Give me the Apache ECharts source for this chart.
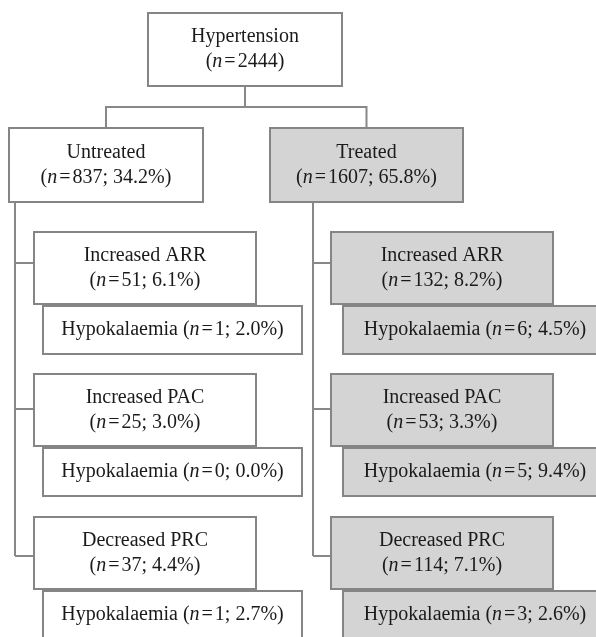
<!DOCTYPE html>
<html>
<head>
<meta charset="utf-8">
<script src="https://cdn.jsdelivr.net/npm/echarts@6/dist/echarts.min.js"></script>
<style>
html,body{margin:0;padding:0;background:#fff;}
#chart{width:596px;height:637px;}
</style>
</head>
<body>
<div id="chart"></div>
<script>
// ---- data ----
const rootLabel = 'Hypertension';
const rootN = 2444;
const groups = ['Untreated', 'Treated'];
const groupN = [837, 1607];
const groupPct = ['34.2', '65.8'];
const criteria = ['Increased ARR', 'Increased PAC', 'Decreased PRC'];
const untreatedN = [51, 25, 37];
const untreatedPct = ['6.1', '3.0', '4.4'];
const treatedN = [132, 53, 114];
const treatedPct = ['8.2', '3.3', '7.1'];
const subLabel = 'Hypokalaemia';
const untreatedHypoN = [1, 0, 1];
const untreatedHypoPct = ['2.0', '0.0', '2.7'];
const treatedHypoN = [6, 5, 3];
const treatedHypoPct = ['4.5', '9.4', '2.6'];

// ---- layout (pixel space of the hidden axes) ----
const W = 596, H = 637;
const topBox = [148, 13, 342, 86];
const groupX = [[9, 203], [270, 463]];
const groupY = [128, 202];
const critX = [[34, 256], [331, 553]];
const critTops = [232, 374, 517];
const critH = 72;
const hypoX = [[43, 302], [343, 607]];
const hypoH = 48;
const trunkX = [15, 313];
const branchY = [263, 409, 556];
const fills = ['#ffffff', '#d4d4d4'];

const nTxt = (n, pct) => '({i|n}{eq|=}' + n + (pct !== undefined ? '; ' + pct + '%' : '') + ')';

const boxes = [];
boxes.push({ r: topBox, text: rootLabel + '\n' + nTxt(rootN), fill: '#ffffff' });
const perGroup = [[untreatedN, untreatedPct, untreatedHypoN, untreatedHypoPct], [treatedN, treatedPct, treatedHypoN, treatedHypoPct]];
groups.forEach((g, gi) => {
  boxes.push({ r: [groupX[gi][0], groupY[0], groupX[gi][1], groupY[1]], text: g + '\n' + nTxt(groupN[gi], groupPct[gi]), fill: fills[gi] });
  const [cn, cp, hn, hp] = perGroup[gi];
  criteria.forEach((c, ci) => {
    const t = critTops[ci];
    boxes.push({ r: [critX[gi][0], t, critX[gi][1], t + critH], text: c + '\n' + nTxt(cn[ci], cp[ci]), fill: fills[gi] });
    boxes.push({ r: [hypoX[gi][0], t + critH + 2, hypoX[gi][1], t + critH + 2 + hypoH], text: subLabel + ' ' + nTxt(hn[ci], hp[ci]), fill: fills[gi] });
  });
});

const lines = [];
const rootCx = (topBox[0] + topBox[2]) / 2;
const gCx = groupX.map(g => (g[0] + g[1]) / 2);
lines.push([[rootCx, topBox[3]], [rootCx, 107]]);
lines.push([[gCx[0], groupY[0]], [gCx[0], 107], [gCx[1], 107], [gCx[1], groupY[0]]]);
[0, 1].forEach(gi => {
  lines.push([[trunkX[gi], groupY[1]], [trunkX[gi], branchY[2]]]);
  branchY.forEach(y => lines.push([[trunkX[gi], y], [critX[gi][0], y]]));
});

const FONT = '"Liberation Serif", "Times New Roman", serif';
const FS = 20;
const LH = 25;
const TXT = '#1a1a1a';
const rich = {
  i: { fontStyle: 'italic', fontFamily: FONT, fontSize: FS, lineHeight: LH, fill: TXT },
  eq: { fontFamily: FONT, fontSize: FS, lineHeight: LH, padding: [0, 2], fill: TXT }
};

const chart = echarts.init(document.getElementById('chart'), null, { renderer: 'canvas' });
chart.setOption({
  backgroundColor: '#ffffff',
  animation: false,
  grid: { left: 0, right: 0, top: 0, bottom: 0 },
  xAxis: { type: 'value', min: 0, max: W, show: false },
  yAxis: { type: 'value', min: 0, max: H, inverse: true, show: false },
  series: [
    {
      type: 'custom',
      coordinateSystem: 'cartesian2d',
      data: lines.map((l, i) => [i]),
      renderItem: (params, api) => {
        const pts = lines[params.dataIndex].map(p => api.coord(p));
        return { type: 'polyline', shape: { points: pts }, style: { stroke: '#888888', lineWidth: 2, fill: null } };
      },
      z: 1
    },
    {
      type: 'custom',
      coordinateSystem: 'cartesian2d',
      data: boxes.map(b => b.r),
      renderItem: (params, api) => {
        const b = boxes[params.dataIndex];
        const p0 = api.coord([api.value(0), api.value(1)]);
        const p1 = api.coord([api.value(2), api.value(3)]);
        return {
          type: 'group',
          children: [
            { type: 'rect', shape: { x: p0[0], y: p0[1], width: p1[0] - p0[0], height: p1[1] - p0[1] },
              style: { fill: b.fill, stroke: '#858585', lineWidth: 2 } },
            { type: 'text', style: { x: (p0[0] + p1[0]) / 2, y: (p0[1] + p1[1]) / 2, text: b.text, rich: rich,
              fontFamily: FONT, fontSize: FS, lineHeight: LH, fill: TXT, align: 'center', verticalAlign: 'middle' } }
          ]
        };
      },
      z: 2
    }
  ]
});
</script>
</body>
</html>
